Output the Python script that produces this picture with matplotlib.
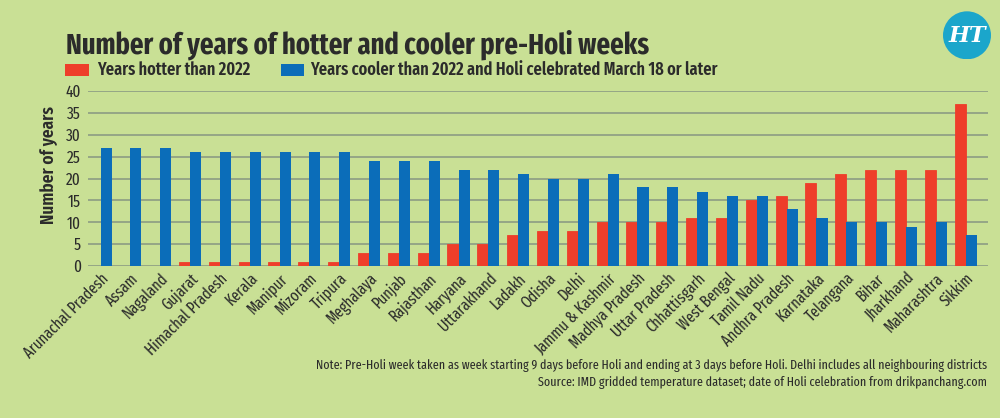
import matplotlib
matplotlib.use("Agg")
import matplotlib.pyplot as plt
import numpy as np
from matplotlib.patches import Circle, Rectangle

# data
states = ["Arunachal Pradesh", "Assam", "Nagaland", "Gujarat", "Himachal Pradesh",
          "Kerala", "Manipur", "Mizoram", "Tripura", "Meghalaya", "Punjab",
          "Rajasthan", "Haryana", "Uttarakhand", "Ladakh", "Odisha", "Delhi",
          "Jammu & Kashmir", "Madhya Pradesh", "Uttar Pradesh", "Chhattisgarh",
          "West Bengal", "Tamil Nadu", "Andhra Pradesh", "Karnataka", "Telangana",
          "Bihar", "Jharkhand", "Maharashtra", "Sikkim"]
hotter = [0, 0, 0, 1, 1, 1, 1, 1, 1, 3, 3, 3, 5, 5, 7, 8, 8, 10, 10, 10,
          11, 11, 15, 16, 19, 21, 22, 22, 22, 37]
cooler = [27, 27, 27, 26, 26, 26, 26, 26, 26, 24, 24, 24, 22, 22, 21, 20, 20, 21,
          18, 18, 17, 16, 16, 13, 11, 10, 10, 9, 10, 7]
yticks = [0, 5, 10, 15, 20, 25, 30, 35, 40]

BG = "#c9e095"
RED = "#ee3e2a"
BLUE = "#0b6db9"
GRID = "#8c9c84"
TXT = "#2b2b2b"
FONT = ["Fira Sans Extra Condensed", "Fira Sans Condensed", "DejaVu Sans"]

plt.rcParams["font.family"] = FONT

fig = plt.figure(figsize=(10, 4.18), dpi=100, facecolor=BG)
ax = fig.add_axes([0.088, 0.3636, 0.900, 0.4186], facecolor=BG)

x = np.arange(len(states))
w = 0.37
ax.bar(x - w / 2, hotter, width=w, color=RED, edgecolor=RED, linewidth=0.6, zorder=3)
ax.bar(x + w / 2, cooler, width=w, color=BLUE, zorder=3)

ax.set_ylim(0, 40)
ax.set_xlim(-0.42, 29.75)
ax.set_yticks(yticks)
ax.yaxis.grid(True, color=GRID, linewidth=1.2, zorder=0)
ax.tick_params(axis="y", length=0, pad=5, labelsize=12, labelcolor=TXT)
ax.tick_params(axis="x", length=0, pad=3)
ax.set_xticks(x)
ax.set_xticklabels(states, rotation=45, ha="right", rotation_mode="anchor",
                   fontsize=11.5, color=TXT)
for s in ax.spines.values():
    s.set_visible(False)

ax.set_ylabel("Number of years", fontsize=13.5, fontweight="semibold", color=TXT)
ax.yaxis.set_label_coords(-0.033, 0.58)

# title and legend
fig.text(0.066, 0.893, "Number of years of hotter and cooler pre-Holi weeks",
         fontsize=20.8, fontweight="bold", color=TXT, va="center", ha="left")
fig.patches.append(Rectangle((0.065, 0.818), 0.024, 0.029, transform=fig.transFigure,
                             facecolor=RED, edgecolor="none"))
fig.text(0.097, 0.834, "Years hotter than 2022", fontsize=12.8, fontweight="semibold",
         color=TXT, va="center", ha="left")
fig.patches.append(Rectangle((0.281, 0.818), 0.023, 0.029, transform=fig.transFigure,
                             facecolor=BLUE, edgecolor="none"))
fig.text(0.310, 0.834, "Years cooler than 2022 and Holi celebrated March 18 or later",
         fontsize=12.8, fontweight="semibold", color=TXT, va="center", ha="left")

# HT logo
logo = fig.add_axes([0.943, 0.858, 0.048, 0.115])
logo.set_xlim(0, 1)
logo.set_ylim(0, 1)
logo.set_aspect("equal")
logo.axis("off")
logo.add_patch(Circle((0.5, 0.5), 0.5, facecolor="#1ba6cb", edgecolor="none"))
logo.text(0.5, 0.48, "HT", fontsize=16, fontweight="bold", fontstyle="italic",
          family="DejaVu Serif", color="white", ha="center", va="center")

# notes
fig.text(0.987, 0.125, "Note: Pre-Holi week taken as week starting 9 days before Holi and "
         "ending at 3 days before Holi. Delhi includes all neighbouring districts",
         fontsize=9.4, color=TXT, ha="right", va="center")
fig.text(0.987, 0.086, "Source: IMD gridded temperature dataset; date of Holi celebration "
         "from drikpanchang.com", fontsize=9.4, color=TXT, ha="right", va="center")

fig.savefig("out.png", dpi=100, facecolor=BG)
